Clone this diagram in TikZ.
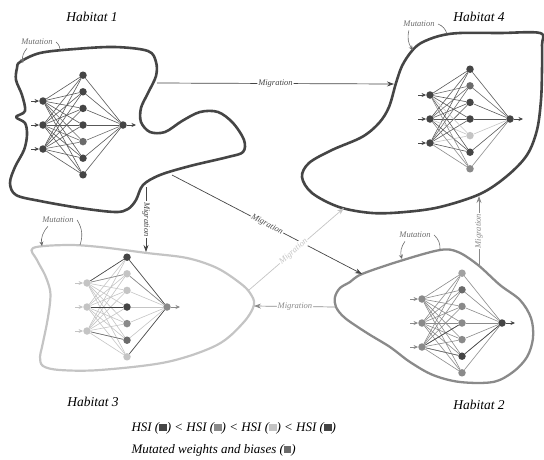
\documentclass[tikz,border=0pt]{standalone}
\usepackage{fontspec}
\setmainfont{Liberation Serif}
\usepackage{tikz}
\usetikzlibrary{calc, arrows.meta}

\definecolor{dark}{HTML}{454545}
\definecolor{mid}{HTML}{8A8A8A}
\definecolor{light}{HTML}{C4C4C4}
\definecolor{mutated}{HTML}{6B6B6B}

\tikzset{
	neuron/.style = {circle, inner sep = 0pt, minimum size = 7.5pt},
	synapse/.style = {line width = 0.6pt},
	tip/.style = {-{Stealth[length = 4.5pt, width = 4pt]}},
	habitat/.style = {line width = 2.6pt, line join = round},
	migration/.style = {line width = 0.7pt, -{Stealth[length = 7pt, width = 5pt]}},
	miglabel/.style = {midway, sloped, fill = white, inner sep = 1pt, font = \fontsize{8.5}{10}\selectfont\itshape},
	mutation/.style = {font = \fontsize{8.5}{10}\selectfont\itshape, text = mutated},
	mutarrow/.style = {mutated, line width = 0.6pt},
	title/.style = {font = \fontsize{13.5}{16}\selectfont\itshape},
	key/.style = {anchor = west, font = \fontsize{13}{15}\selectfont\itshape},
}

\newcommand{\swatch}[1]{\textcolor{#1}{\raisebox{0.3pt}{\rule{7.5pt}{7pt}}}}

\newcommand{\network}[5]{
	\coordinate (#1 origin) at (#2);
	\foreach \k in {1,2,3}
		\node [neuron, fill = #3] (#1 in \k) at ($ (#1 origin) + (0, {(\k-2)*24}) $) {};
	\foreach \j/\n/\e in {#4}
		\node [neuron, fill = \n] (#1 hid \j) at ($ (#1 origin) + (40, {(\j-4)*16.6}) $) {};
	\node [neuron, fill = #5] (#1 out) at ($ (#1 origin) + (80, 0) $) {};
	\foreach \j/\n/\e in {#4} {
		\foreach \k in {1,2,3}
			\draw [synapse, \e] (#1 in \k) -- (#1 hid \j);
		\draw [synapse, \e] (#1 hid \j) -- (#1 out);
	}
	\foreach \k in {1,2,3} {
		\coordinate (#1 feed \k) at ($ (#1 in \k) + (-12, 0) $);
		\draw [synapse, #3, tip] (#1 feed \k) -- (#1 in \k);
	}
	\coordinate (#1 result) at ($ (#1 out) + (13, 0) $);
	\draw [synapse, #5, tip] (#1 out) -- (#1 result);
}

\begin{document}
\begin{tikzpicture}[x = 1pt, y = -1pt]
	\useasboundingbox (0,0) rectangle (544,459);

	% habitats
	\draw [habitat, dark] plot [smooth cycle, tension = 0.55] coordinates {
		(20,62) (40,53) (75,49) (115,47) (148,51) (156,62) (156,76) (148,93) (141,108) (141,122)
		(150,132) (165,132) (182,121) (200,112) (218,112) (233,123) (244,140) (243,152) (228,157)
		(190,166) (160,175) (143,185) (136,200) (128,209) (115,212) (80,208) (40,201) (16,195)
		(10,183) (15,167) (24,150) (27,135) (25,123) (16,117) (25,111) (22,95) (16,80) (17,68)};

	\draw [habitat, dark] plot [smooth cycle, tension = 0.55] coordinates {
		(396,83) (402,66) (411,52) (421,43) (439,36) (460,33) (500,33) (540,33) (542,45) (542,70)
		(541,100) (537,130) (527,155) (507,176) (480,194) (440,207) (405,212) (372,213) (339,207)
		(312,193) (302,177) (309,163) (332,150) (362,137) (379,123) (389,107)};

	\draw [habitat, light, line width = 2.2pt] plot [smooth cycle, tension = 0.55] coordinates {
		(33,248) (67,245) (100,247) (147,253) (187,258) (217,268) (240,283) (250,293) (254,305)
		(243,323) (217,345) (167,362) (100,370) (60,370) (43,366) (40,357) (42,347) (47,323)
		(50,303) (50,290) (45,275) (37,260)};

	\draw [habitat, mid, line width = 2.3pt] plot [smooth cycle, tension = 0.55] coordinates {
		(362,274) (400,261) (440,250) (458,252) (478,265) (500,285) (520,300) (531,318) (533,338)
		(527,357) (513,372) (493,382) (460,382) (433,375) (410,362) (390,347) (367,333) (345,318)
		(336,307) (335,297) (340,288) (350,282)};

	% networks
	\network{h1}{43,125}{dark}{1/dark/dark!90, 2/dark/dark!90, 3/dark/dark!90, 4/dark/dark!90,
		5/mutated/mutated, 6/dark/dark!90, 7/dark/dark!90}{dark}
	\network{h4}{430,119}{dark}{1/dark/dark!90, 2/mutated/mutated, 3/dark/dark!90, 4/dark/dark!90,
		5/light/light, 6/dark/dark!90, 7/mid/mid}{dark}
	\network{h3}{87,307}{light}{1/dark/light, 2/light/light, 3/light/light, 4/dark/light,
		5/mid/light, 6/mutated/light, 7/light/light}{mid}
	\network{h2}{422,323}{mid}{1/mid!80/mid, 2/mutated/mid, 3/mid/mid, 4/mid/mid,
		5/mid/mid, 6/dark/mid, 7/mid/mid}{dark}

	\draw [synapse, dark] (h3 in 1) -- (h3 hid 1);
	\draw [synapse, dark] (h3 in 2) -- (h3 hid 4);
	\draw [synapse, mutated] (h3 in 3) -- (h3 hid 6);
	\draw [synapse, mid] (h3 in 1) -- (h3 hid 2);
	\draw [synapse, dark] (h3 hid 1) -- (h3 out);
	\draw [synapse, mid] (h3 hid 2) -- (h3 out);
	\draw [synapse, dark] (h3 hid 7) -- (h3 out);
	\draw [synapse, dark] (h2 in 3) -- (h2 hid 4);
	\draw [synapse, mutated] (h2 in 3) -- (h2 hid 6);
	\draw [synapse, dark] (h2 hid 6) -- (h2 out);

	% titles
	\node [title] (h1 title) at (92,17) {Habitat 1};
	\node [title] (h4 title) at (479,17) {Habitat 4};
	\node [title] (h3 title) at (93,402) {Habitat 3};
	\node [title] (h2 title) at (479,405) {Habitat 2};

	% mutation
	\node [mutation] (h1 mut) at (37,42) {Mutation};
	\node [mutation] (h4 mut) at (419,24) {Mutation};
	\node [mutation] (h3 mut) at (58,220) {Mutation};
	\node [mutation] (h2 mut) at (415,235) {Mutation};

	\coordinate (h1 mut tip) at (23,63);
	\coordinate (h1 mut foot) at (60,51);
	\coordinate (h4 mut tip) at (413,50);
	\coordinate (h4 mut foot) at (447,34);
	\coordinate (h3 mut tip) at (42,246);
	\coordinate (h3 mut foot) at (80,245);
	\coordinate (h2 mut tip) at (402,259);
	\coordinate (h2 mut foot) at (440,250);

	\draw [mutarrow, tip] ($ (h1 mut.south west) + (9,0) $) to [bend right = 25] (h1 mut tip);
	\draw [mutarrow] (h1 mut.east) to [bend left = 25] (h1 mut foot);
	\draw [mutarrow, tip] ($ (h4 mut.south west) + (9,0) $) to [bend right = 25] (h4 mut tip);
	\draw [mutarrow] (h4 mut.east) to [bend left = 25] (h4 mut foot);
	\draw [mutarrow, tip] ($ (h3 mut.south west) + (9,0) $) to [bend right = 25] (h3 mut tip);
	\draw [mutarrow] (h3 mut.east) to [bend left = 25] (h3 mut foot);
	\draw [mutarrow, tip] ($ (h2 mut.south west) + (9,0) $) to [bend right = 25] (h2 mut tip);
	\draw [mutarrow] (h2 mut.east) to [bend left = 25] (h2 mut foot);

	% migration
	\coordinate (h1 east) at (157,83);
	\coordinate (h4 west) at (394,84);
	\coordinate (h1 south) at (146,187);
	\coordinate (h3 north) at (146,252);
	\coordinate (h1 corner) at (172,175);
	\coordinate (h2 north) at (362,274);
	\coordinate (h3 tip) at (249,290);
	\coordinate (h4 south) at (344,208);
	\coordinate (h2 west) at (336,307);
	\coordinate (h3 east) at (254,306);
	\coordinate (h2 top) at (479,266);
	\coordinate (h4 bottom) at (479,196);

	\draw [migration, dark] (h1 east) -- (h4 west) node [miglabel] {Migration};
	\draw [migration, dark] (h1 south) -- (h3 north) node [miglabel] {Migration};
	\draw [migration, dark] (h1 corner) -- (h2 north) node [miglabel] {Migration};
	\draw [migration, light] (h3 tip) -- (h4 south) node [miglabel, pos = 0.47] {Migration};
	\draw [migration, mid] (h2 west) -- (h3 east) node [miglabel] {Migration};
	\draw [migration, mid] (h2 top) -- (h4 bottom) node [miglabel] {Migration};

	% legend
	\node [key] (order) at (128,428)
		{HSI (\swatch{dark}) < HSI (\swatch{mid}) < HSI (\swatch{light}) < HSI (\swatch{dark})};
	\node [key] (mutated key) at (128,450)
		{Mutated weights and biases (\swatch{mutated})};
\end{tikzpicture}
\end{document}
